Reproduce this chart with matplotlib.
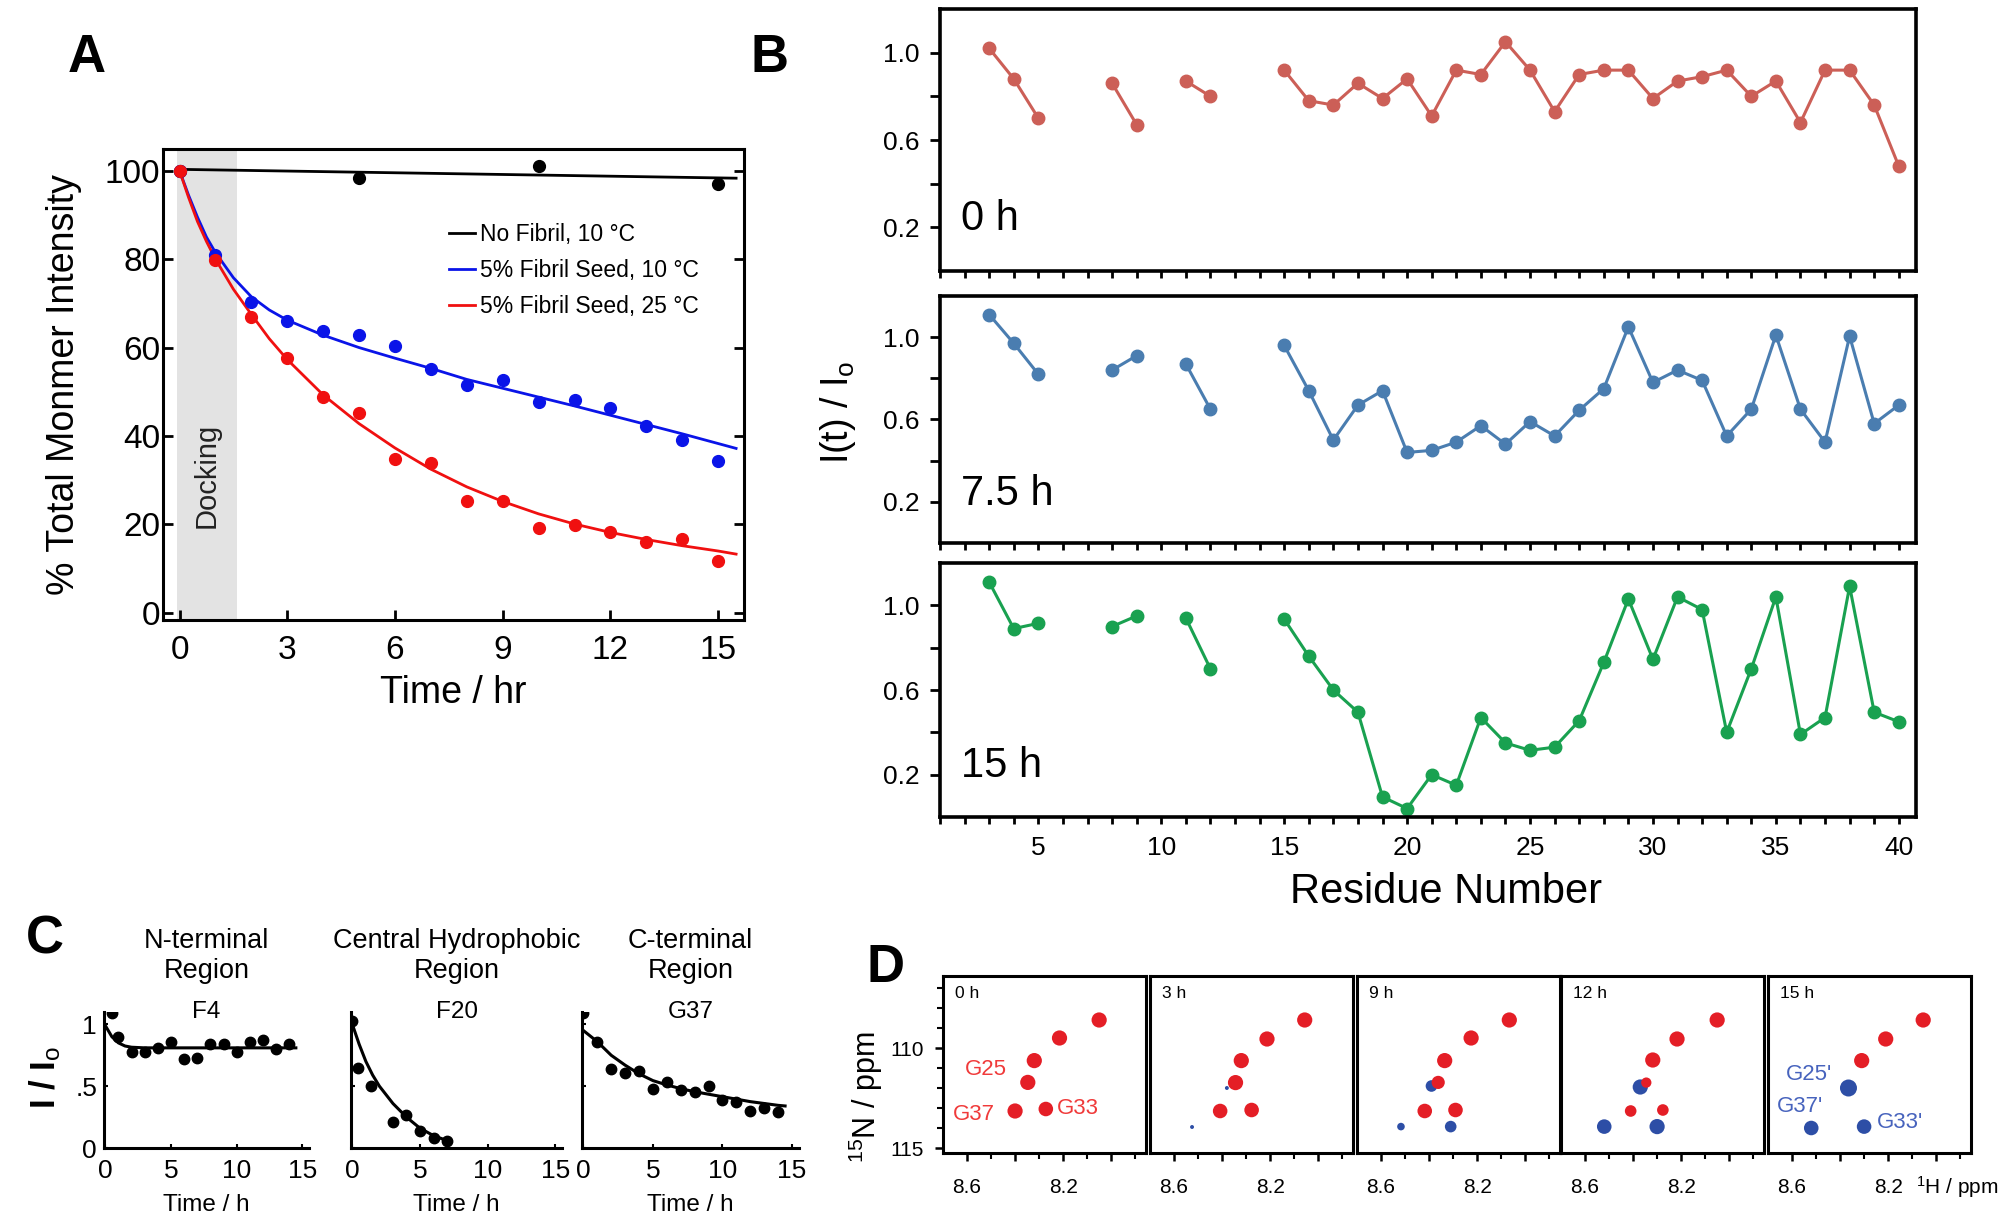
import matplotlib
matplotlib.use('Agg')
import matplotlib.pyplot as plt
from matplotlib import font_manager
import numpy as np

W, H = 2010, 1218
DPI = 100

_names = {f.name for f in font_manager.fontManager.ttflist}
SANS = 'Liberation Sans' if 'Liberation Sans' in _names else 'DejaVu Sans'
NARROW = 'Liberation Sans Narrow' if 'Liberation Sans Narrow' in _names else SANS

plt.rcParams['font.family'] = [SANS, 'DejaVu Sans']
plt.rcParams['mathtext.fontset'] = 'custom'
plt.rcParams['mathtext.rm'] = SANS
plt.rcParams['mathtext.it'] = SANS + ':italic'
plt.rcParams['mathtext.bf'] = SANS + ':bold'

# ---------------- Panel A data ----------------
a_time_nofibril = [0, 5, 10, 15]
a_nofibril = [100, 98.4, 101.0, 96.9]
a_time = list(range(16))
a_seed10 = [100, 80.9, 70.4, 66.1, 63.8, 62.9, 60.3, 55.1, 51.6, 52.7, 47.8, 48.1, 46.3, 42.2, 39.0, 34.3]
a_seed25 = [100, 79.7, 66.8, 57.7, 48.9, 45.1, 34.8, 33.8, 25.4, 25.3, 19.2, 19.9, 18.4, 16.1, 16.8, 11.7]
a_fit_time_nofibril = [0, 15.5]
a_fit_nofibril = [100.3, 98.3]
a_fit_time = [0, 0.25, 0.5, 0.75, 1, 1.5, 2, 2.5, 3, 4, 5, 6, 7, 8, 9, 10, 11, 12, 13, 14, 15, 15.5]
a_fit_seed10 = [100, 94.5, 89.5, 85.0, 81.5, 75.8, 71.5, 68.5, 66.2, 62.8, 60.0, 57.6, 55.3, 52.8, 50.8,
                48.8, 46.8, 44.7, 42.6, 40.5, 38.3, 37.2]
a_fit_seed25 = [100, 94.0, 88.5, 84.0, 80.0, 73.2, 67.5, 62.0, 57.3, 49.3, 42.8, 37.3, 32.5, 28.5, 25.2,
                22.4, 20.1, 18.2, 16.6, 15.2, 14.0, 13.3]
a_labels = ['No Fibril, 10 °C', '5% Fibril Seed, 10 °C', '5% Fibril Seed, 25 °C']
a_xticks = [0, 3, 6, 9, 12, 15]
a_yticks = [0, 20, 40, 60, 80, 100]

# ---------------- Panel B data ----------------
nan = np.nan
b_residue = list(range(3, 41))
b_0h = [1.02, 0.88, 0.70, nan, nan, 0.86, 0.67, nan, 0.87, 0.80, nan, nan,
        0.92, 0.78, 0.76, 0.86, 0.79, 0.88, 0.71, 0.92, 0.90, 1.05, 0.92, 0.73, 0.90, 0.92,
        0.92, 0.79, 0.87, 0.89, 0.92, 0.80, 0.87, 0.68, 0.92, 0.92, 0.76, 0.48]
b_7h = [1.11, 0.97, 0.82, nan, nan, 0.84, 0.91, nan, 0.87, 0.65, nan, nan,
        0.96, 0.74, 0.50, 0.67, 0.74, 0.44, 0.45, 0.49, 0.57, 0.48, 0.59, 0.52, 0.645, 0.75,
        1.05, 0.78, 0.84, 0.79, 0.52, 0.65, 1.01, 0.65, 0.49, 1.005, 0.58, 0.67]
b_15h = [1.11, 0.89, 0.915, nan, nan, 0.90, 0.95, nan, 0.94, 0.70, nan, nan,
         0.935, 0.76, 0.60, 0.495, 0.095, 0.04, 0.20, 0.15, 0.47, 0.35, 0.315, 0.33, 0.455, 0.73,
         1.03, 0.745, 1.04, 0.98, 0.40, 0.70, 1.04, 0.39, 0.47, 1.09, 0.495, 0.45]
b_series = [b_0h, b_7h, b_15h]
b_names = ['0 h', '7.5 h', '15 h']
b_colors = ['#cc5f57', '#4a7db0', '#19a150']
b_yticks = [0.2, 0.4, 0.6, 0.8, 1.0]
b_yticklabels = ['0.2', '', '0.6', '', '1.0']
b_xticks = [5, 10, 15, 20, 25, 30, 35, 40]

# ---------------- Panel C data ----------------
c_titles = ['N-terminal\nRegion', 'Central Hydrophobic\nRegion', 'C-terminal\nRegion']
c_names = ['F4', 'F20', 'G37']
c_f4_time = [0.5, 1, 2, 3, 4, 5, 6, 7, 8, 9, 10, 11, 12, 13, 14]
c_f4 = [1.09, 0.90, 0.78, 0.78, 0.81, 0.86, 0.72, 0.73, 0.84, 0.845, 0.78, 0.86, 0.87, 0.80, 0.84]
c_f4_fit_time = [0, 0.5, 1, 1.5, 2, 3, 4, 6, 8, 10, 12, 14.5]
c_f4_fit = [0.99, 0.90, 0.85, 0.825, 0.815, 0.81, 0.81, 0.81, 0.81, 0.81, 0.81, 0.81]
c_f20_time = [0, 0.4, 1.4, 3, 4, 5, 6, 7]
c_f20 = [1.03, 0.65, 0.50, 0.21, 0.27, 0.135, 0.08, 0.055]
c_f20_fit_time = [0, 0.5, 1, 1.5, 2, 2.5, 3, 4, 5, 6, 7]
c_f20_fit = [1.0, 0.84, 0.70, 0.59, 0.50, 0.43, 0.36, 0.25, 0.16, 0.10, 0.06]
c_g37_time = [0, 1, 2, 3, 4, 5, 6, 7, 8, 9, 10, 11, 12, 13, 14]
c_g37 = [1.09, 0.86, 0.64, 0.61, 0.625, 0.475, 0.535, 0.47, 0.455, 0.50, 0.39, 0.375, 0.30, 0.32, 0.29]
c_g37_fit_time = [0, 1, 2, 3, 4, 5, 6, 7, 8, 9, 10, 11, 12, 13, 14, 14.5]
c_g37_fit = [0.95, 0.86, 0.75, 0.67, 0.60, 0.545, 0.51, 0.48, 0.455, 0.435, 0.415, 0.395, 0.375, 0.36, 0.345, 0.34]
c_data = [(c_f4_time, c_f4, c_f4_fit_time, c_f4_fit),
          (c_f20_time, c_f20, c_f20_fit_time, c_f20_fit),
          (c_g37_time, c_g37, c_g37_fit_time, c_g37_fit)]

# ---------------- Panel D data ----------------
d_times = ['0 h', '3 h', '9 h', '12 h', '15 h']
d_red_h = [[8.05, 8.215, 8.32, 8.347, 8.40, 8.272],
           [8.056, 8.213, 8.32, 8.344, 8.408, 8.277],
           [8.066, 8.225, 8.335, 8.362, 8.418, 8.29],
           [8.05, 8.217, 8.318, 8.345, 8.41, 8.276],
           [8.054, 8.21, 8.31]]
d_red_n = [[108.6, 109.5, 110.63, 111.72, 113.15, 113.05],
           [108.6, 109.55, 110.63, 111.73, 113.15, 113.1],
           [108.6, 109.5, 110.63, 111.72, 113.15, 113.1],
           [108.6, 109.55, 110.6, 111.73, 113.15, 113.1],
           [108.6, 109.55, 110.63]]
d_red_s = [[120, 120, 120, 120, 120, 110],
           [120, 120, 120, 120, 110, 110],
           [120, 120, 120, 90, 110, 110],
           [120, 120, 120, 55, 70, 70],
           [120, 120, 120]]
d_blue_h = [[], [8.38, 8.525], [8.39, 8.517, 8.31], [8.37, 8.52, 8.30], [8.365, 8.52, 8.30]]
d_blue_n = [[], [112.0, 113.95], [111.9, 113.93, 113.93], [111.95, 113.93, 113.93], [112.0, 114.0, 113.93]]
d_blue_s = [[], [8, 8], [70, 30, 70], [120, 110, 120], [150, 110, 110]]
d_red_labels = ['G25', 'G37', 'G33']
d_red_label_h = [8.52, 8.57, 8.14]
d_red_label_n = [111.1, 113.3, 113.0]
d_blue_labels = ["G25'", "G37'", "G33'"]
d_blue_label_h = [8.53, 8.565, 8.15]
d_blue_label_n = [111.35, 112.93, 113.7]

RED = '#e41e26'
BLUE = '#2d4ea6'


def px_axes(fig, left, top, right, bottom):
    return fig.add_axes([left / W, 1 - bottom / H, (right - left) / W, (bottom - top) / H])


fig = plt.figure(figsize=(W / DPI, H / DPI), dpi=DPI)

# ======================= Panel A =======================
axA = px_axes(fig, 163, 149, 744, 620)
axA.axvspan(-0.07, 1.6, color='#e3e3e3', zorder=0, lw=0)
axA.plot(a_fit_time_nofibril, a_fit_nofibril, color='black', lw=2.0, label=a_labels[0], zorder=2)
axA.plot(a_fit_time, a_fit_seed10, color='#0a14e8', lw=2.0, label=a_labels[1], zorder=2)
axA.plot(a_fit_time, a_fit_seed25, color='#f01010', lw=2.0, label=a_labels[2], zorder=2)
axA.plot(a_time_nofibril, a_nofibril, 'o', color='black', ms=8.5, zorder=3)
axA.plot(a_time, a_seed10, 'o', color='#0a14e8', ms=8.5, zorder=3)
axA.plot(a_time, a_seed25, 'o', color='#f01010', ms=8.5, zorder=3)
axA.set_xlim(-0.46, 15.72)
axA.set_ylim(-1.6, 104.9)
axA.set_xticks(a_xticks)
axA.set_yticks(a_yticks)
axA.tick_params(direction='in', length=7, width=2, labelsize=24, right=True, pad=2)
axA.tick_params(axis='x', pad=11)
for lab in axA.get_xticklabels() + axA.get_yticklabels():
    lab.set_fontfamily([NARROW, SANS])
for s in axA.spines.values():
    s.set_linewidth(2.2)
axA.text(0.5, -0.155, 'Time / hr', transform=axA.transAxes, ha='center', va='center', fontsize=27)
axA.text(-0.17, 0.5, '% Total Monmer Intensity', transform=axA.transAxes, rotation=90,
         ha='center', va='center', fontsize=27)
axA.text(0.76, 31, 'Docking', rotation=90, ha='center', va='center', fontsize=21, color='#222222')
axA.legend(loc='upper left', bbox_to_anchor=(0.493, 0.842), frameon=False, fontsize=16.5,
           handlelength=1.1, handletextpad=0.25, labelspacing=0.55, borderpad=0, borderaxespad=0)
fig.text(87 / W, 1 - 58 / H, 'A', fontsize=38, fontweight='bold', ha='center', va='center')

# ======================= Panel B =======================
b_boxes = [(940, 9, 1916, 271), (940, 296, 1916, 543), (940, 563, 1916, 817)]
for i, (l, t, r, b) in enumerate(b_boxes):
    ax = px_axes(fig, l, t, r, b)
    ax.plot(b_residue, b_series[i], '-o', color=b_colors[i], lw=2.2, ms=9)
    ax.set_xlim(1, 40.7)
    ax.set_ylim(0, 1.2)
    ax.set_yticks(b_yticks)
    ax.set_yticklabels(b_yticklabels)
    ax.set_xticks(b_xticks)
    ax.set_xticks(list(range(1, 41)), minor=True)
    ax.tick_params(axis='both', which='both', direction='out', width=2, labelsize=19)
    ax.tick_params(axis='y', length=7, pad=8)
    ax.tick_params(axis='x', which='both', length=5, pad=9)
    if i < 2:
        ax.tick_params(axis='x', which='both', labelbottom=False)
    for s in ax.spines.values():
        s.set_linewidth(2.6)
    ax.text(0.022, 0.2, b_names[i], transform=ax.transAxes, ha='left', va='center', fontsize=30)
fig.text(1446 / W, 1 - 892 / H, 'Residue Number', ha='center', va='center', fontsize=30)
fig.text(838 / W, 1 - 412 / H, r'I(t) / I$_\mathrm{o}$', ha='center', va='center', fontsize=27, rotation=90)
fig.text(769 / W, 1 - 58 / H, 'B', fontsize=38, fontweight='bold', ha='center', va='center')

# ======================= Panel C =======================
c_boxes = [(104, 1012, 309, 1148), (351, 1012, 562, 1148), (582, 1012, 799, 1148)]
for i, (l, t, r, b) in enumerate(c_boxes):
    ax = px_axes(fig, l, t, r, b)
    tt, yy, ft, fy = c_data[i]
    ax.plot(ft, fy, color='black', lw=2.2)
    ax.plot(tt, yy, 'o', color='black', ms=7.5)
    ax.set_xlim(-0.1, 15.5)
    ax.set_ylim(0, 1.1)
    ax.set_xticks([0, 5, 10, 15])
    ax.set_yticks([0, 0.5, 1])
    ax.set_yticklabels(['0', '.5', '1'] if i == 0 else ['', '', ''])
    ax.spines['top'].set_visible(False)
    ax.spines['right'].set_visible(False)
    ax.spines['left'].set_linewidth(2.2)
    ax.spines['bottom'].set_linewidth(2.2)
    ax.tick_params(direction='in', length=3, width=1.5, labelsize=19, pad=5)
    ax.tick_params(axis='x', pad=8)
    for lab in ax.get_xticklabels() + ax.get_yticklabels():
        lab.set_fontfamily([NARROW, SANS])
    ax.text(0.5, -0.42, 'Time / h', transform=ax.transAxes, ha='center', va='center', fontsize=17.5)
    ax.text(0.5, 1.0, c_names[i], transform=ax.transAxes, ha='center', va='center', fontsize=17.5)
    ax.text(0.5, 1.41, c_titles[i], transform=ax.transAxes, ha='center', va='center', fontsize=19.5,
            linespacing=1.2)
fig.text(45 / W, 1 - 1077 / H, r'I / I$_\mathrm{o}$', ha='center', va='center', fontsize=25,
         rotation=90, fontweight='bold')
fig.text(45 / W, 1 - 940 / H, 'C', fontsize=38, fontweight='bold', ha='center', va='center')

# ======================= Panel D =======================
d_lefts = [943, 1150, 1357, 1561, 1768]
for i, l in enumerate(d_lefts):
    ax = px_axes(fig, l, 976, l + 203, 1153)
    if d_blue_h[i]:
        ax.scatter(d_blue_h[i], d_blue_n[i], s=d_blue_s[i], color=BLUE, lw=0, zorder=2)
    ax.scatter(d_red_h[i], d_red_n[i], s=d_red_s[i], color=RED, lw=0, zorder=3)
    ax.set_xlim(8.70, 7.855)
    ax.set_ylim(115.25, 106.4)
    ax.set_xticks([8.6, 8.4, 8.2, 8.0])
    ax.set_xticklabels(['8.6', '', '8.2', ''])
    ax.set_xticks([8.5, 8.3, 8.1, 7.9], minor=True)
    ax.set_yticks([110, 115])
    ax.set_yticks([107, 108, 109, 111, 112, 113, 114], minor=True)
    ax.tick_params(direction='out', which='major', length=6, width=1.8, labelsize=15, pad=8)
    ax.tick_params(axis='x', which='major', pad=12)
    ax.tick_params(direction='out', which='minor', length=4, width=1.5)
    if i > 0:
        ax.tick_params(axis='y', which='both', left=False, labelleft=False)
    for s in ax.spines.values():
        s.set_linewidth(2.2)
    ax.text(0.06, 0.9, d_times[i], transform=ax.transAxes, ha='left', va='center', fontsize=12.5)
    if i == 0:
        for lab, hx, ny in zip(d_red_labels, d_red_label_h, d_red_label_n):
            ax.text(hx, ny, lab, color='#f03a3a', fontsize=16, ha='center', va='center')
    if i == 4:
        for lab, hx, ny in zip(d_blue_labels, d_blue_label_h, d_blue_label_n):
            ax.text(hx, ny, lab, color='#4763bd', fontsize=16, ha='center', va='center')
fig.text(1957 / W, 1 - 1187 / H, r'$^{1}$H / ppm', ha='center', va='center', fontsize=15)
fig.text(866 / W, 1 - 1097 / H, r'$^{15}$N / ppm', ha='center', va='center', fontsize=22, rotation=90)
fig.text(885 / W, 1 - 968 / H, 'D', fontsize=38, fontweight='bold', ha='center', va='center')

fig.savefig('out.png', dpi=DPI)
